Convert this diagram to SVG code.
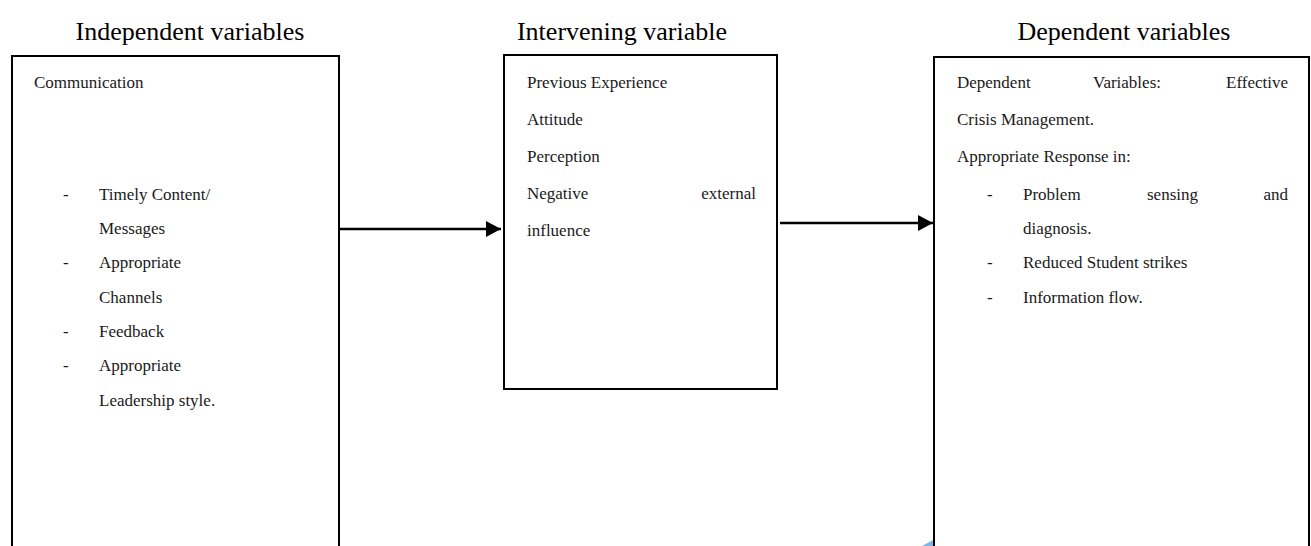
<svg xmlns="http://www.w3.org/2000/svg" width="1311" height="546" viewBox="0 0 1311 546">
<style>
.t{font-family:"Liberation Serif","Times New Roman",serif;font-size:17px;fill:#1a1a1a}
.h{font-family:"Liberation Serif","Times New Roman",serif;font-size:26px;fill:#000;text-anchor:middle}
.box{fill:none;stroke:#000;stroke-width:2}
.ln{stroke:#000;stroke-width:2.5;fill:none}
.e{text-anchor:end}
</style>
<defs>
<marker id="ah" viewBox="0 0 15 16" refX="15" refY="8" markerWidth="15" markerHeight="16" markerUnits="userSpaceOnUse" orient="auto">
<polygon points="0,0 15,8 0,16" fill="#000"/>
</marker>
</defs>
<rect width="1311" height="546" fill="#fff"/>
<g id="titles">
<text class="h" x="190" y="40">Independent variables</text>
<text class="h" x="622" y="40">Intervening variable</text>
<text class="h" x="1124" y="40">Dependent variables</text>
</g>
<g id="independent">
<path class="box" d="M12,560 V56 H339 V560"/>
<text class="t" x="34" y="88">Communication</text>
<text class="t" x="63" y="200">-</text><text class="t" x="99" y="200">Timely Content/</text>
<text class="t" x="99" y="234">Messages</text>
<text class="t" x="63" y="268">-</text><text class="t" x="99" y="268">Appropriate</text>
<text class="t" x="99" y="303">Channels</text>
<text class="t" x="63" y="337">-</text><text class="t" x="99" y="337">Feedback</text>
<text class="t" x="63" y="371">-</text><text class="t" x="99" y="371">Appropriate</text>
<text class="t" x="99" y="406">Leadership style.</text>
</g>
<g id="intervening">
<rect class="box" x="504" y="55" width="273" height="334"/>
<text class="t" x="527" y="88">Previous Experience</text>
<text class="t" x="527" y="125">Attitude</text>
<text class="t" x="527" y="162">Perception</text>
<text class="t" x="527" y="199">Negative</text><text class="t e" x="756" y="199">external</text>
<text class="t" x="527" y="236">influence</text>
</g>
<g id="dependent">
<path class="box" d="M934,560 V57 H1309 V560"/>
<text class="t" x="957" y="88">Dependent</text><text class="t" x="1093" y="88">Variables:</text><text class="t e" x="1288" y="88">Effective</text>
<text class="t" x="957" y="125">Crisis Management.</text>
<text class="t" x="957" y="162">Appropriate Response in:</text>
<text class="t" x="987" y="200">-</text><text class="t" x="1023" y="200">Problem</text><text class="t" x="1147" y="200">sensing</text><text class="t e" x="1288" y="200">and</text>
<text class="t" x="1023" y="234">diagnosis.</text>
<text class="t" x="987" y="268">-</text><text class="t" x="1023" y="268">Reduced Student strikes</text>
<text class="t" x="987" y="303">-</text><text class="t" x="1023" y="303">Information flow.</text>
</g>
<g id="connectors">
<line class="ln" x1="340" y1="229" x2="501" y2="229" marker-end="url(#ah)"/>
<line class="ln" x1="780" y1="223" x2="933" y2="223" marker-end="url(#ah)"/>
</g>
<polygon points="922,546 933,546 933,540" fill="#7fb6e3"/>
</svg>
